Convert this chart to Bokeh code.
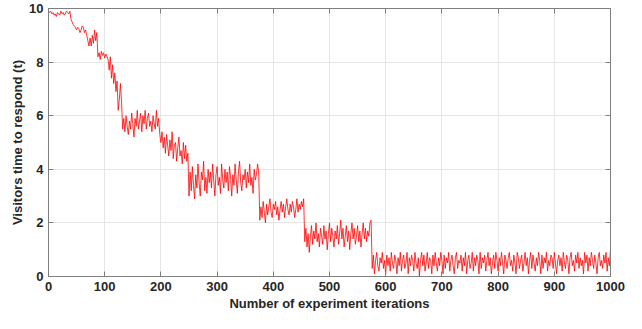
from bokeh.plotting import figure
from bokeh.models import Range1d, LinearAxis, FixedTicker
from bokeh.embed import file_html
from bokeh.resources import INLINE

# ---- data (one value every 2 iterations) ----
seg_start = [9.9, 9.85, 9.9, 9.8, 9.85, 9.75, 9.8, 9.7, 9.85, 9.8, 9.75, 9.9, 9.8, 9.85, 9.75, 9.8, 9.9, 9.85, 9.8, 9.9]
seg_drop1 = [9.6, 9.5, 9.4, 9.35, 9.3, 9.2, 9.3, 9.25, 9.1, 9.2, 9.35, 9.3, 9.1, 9.2, 9.0, 8.8]
seg_drop2 = [8.6, 8.9, 8.6, 9.0, 8.7, 9.2, 8.8, 9.1]
seg_8 = [8.2, 8.35, 8.1, 8.4, 8.25, 8.35, 8.15, 8.3, 8.2]
seg_drop3 = [8.1, 7.7, 8.2, 7.4, 7.9, 7.2, 7.6, 6.9, 7.3, 6.2, 6.6, 7.2, 6.5]
seg_6 = [5.5, 5.9, 5.4, 6.0, 5.6, 5.3, 5.8, 5.5, 6.1, 5.7, 5.2, 5.9, 5.6, 6.2, 5.5, 5.8, 6.1,
         5.4, 6.0, 5.7, 6.2, 5.5, 5.9, 6.1, 5.6, 5.8, 5.4, 6.0, 5.7, 5.5, 6.2, 5.6, 5.9]
seg_5 = [5.3, 5.0, 5.4, 4.8, 5.2, 4.6, 5.3, 4.9, 4.5, 5.1, 4.7, 5.4, 4.4, 4.9, 5.0, 4.3, 4.8,
         5.2, 4.5, 4.7, 4.2, 5.0, 4.4, 4.9, 4.3, 4.6]
seg_4 = [3.0, 3.9, 3.2, 4.1, 3.4, 2.9, 3.8, 3.3, 4.2, 3.5, 3.0, 3.9, 3.6, 4.3, 3.2, 3.7, 3.1, 4.0, 3.5, 3.9,
         3.3, 4.2, 3.6, 3.0, 3.8, 4.1, 3.4, 3.7, 3.1, 4.2, 3.6, 3.3, 4.0, 3.5, 3.9, 3.2, 4.1, 3.7, 3.0, 3.8,
         3.4, 4.2, 3.6, 3.1, 3.9, 4.3, 3.5, 3.2, 3.8, 3.6, 4.0, 3.3, 3.9, 3.5, 4.2, 3.4, 3.7, 3.1, 4.0, 3.6,
         3.8, 4.2, 3.9]
seg_3 = [2.1, 2.6, 2.2, 2.8, 2.4, 2.0, 2.7, 2.3, 2.6, 2.9, 2.4, 2.2, 2.7, 2.5, 2.8, 2.3, 2.6, 2.1, 2.5, 2.8,
         2.4, 2.7, 2.2, 2.6, 2.9, 2.5, 2.3, 2.7, 2.4, 2.8, 2.6, 2.2, 2.5, 2.9, 2.4, 2.7, 2.5, 2.8, 2.6, 2.9]
seg_2 = [1.3, 1.8, 1.1, 1.6, 0.9, 1.5, 1.9, 1.2, 1.7, 1.4, 2.0, 1.3, 1.6, 1.1, 1.8, 1.5, 1.2, 1.9, 1.4, 1.7,
         1.0, 1.6, 2.0, 1.3, 1.8, 1.5, 1.1, 1.7, 1.4, 1.9, 1.2, 1.6, 2.1, 1.4, 1.8, 1.1, 1.5, 1.9, 1.3, 1.7,
         1.0, 1.6, 2.0, 1.4, 1.8, 1.2, 1.5, 1.9, 1.3, 1.7, 1.1, 1.6, 2.0, 1.4, 1.8, 1.3, 1.7, 1.5, 2.0, 2.1]
seg_1 = [0.3, 0.8, 0.1, 0.6, 0.9, 0.4, 0.2, 0.7, 0.5, 0.9, 0.3, 0.6, 0.1, 0.8, 0.4, 0.7, 0.2, 0.9, 0.5, 0.3,
         0.8, 0.6, 0.1, 0.7, 0.4, 0.9, 0.2, 0.6, 0.8, 0.3, 0.5, 0.9, 0.1, 0.7, 0.4, 0.8, 0.6, 0.2, 0.9, 0.5,
         0.3, 0.7, 0.0, 0.6, 0.9, 0.4, 0.8, 0.2, 0.5, 0.9, 0.3, 0.7, 0.6, 0.1, 0.8, 0.4, 0.9, 0.5, 0.2, 0.7,
         0.4, 0.9, 0.6, 0.1, 0.8, 0.3, 0.7, 0.5, 0.9, 0.2, 0.6, 0.8, 0.4, 0.1, 0.7, 0.9, 0.3, 0.6, 0.5, 0.8,
         0.2, 0.7, 0.4, 0.9, 0.1, 0.6, 0.8, 0.3, 0.5, 0.9, 0.2, 0.7, 0.4, 0.8, 0.6, 0.1, 0.9, 0.3, 0.7, 0.5,
         0.8, 0.2, 0.6, 0.9, 0.4, 0.7, 0.1, 0.5, 0.8, 0.3, 0.9, 0.6, 0.2, 0.7, 0.4, 0.9, 0.5, 0.1, 0.8, 0.6,
         0.3, 0.7, 0.9, 0.4, 0.6, 0.2, 0.8, 0.5, 0.1, 0.9, 0.7, 0.3, 0.6, 0.8, 0.2, 0.5, 0.9, 0.4, 0.7, 0.1,
         0.6, 0.9, 0.3, 0.8, 0.5, 0.2, 0.7, 0.4, 0.9, 0.6, 0.1, 0.8, 0.3, 0.7, 0.5, 0.9, 0.2, 0.6, 0.4, 0.8,
         0.7, 0.3, 0.9, 0.5, 0.1, 0.6, 0.8, 0.4, 0.7, 0.2, 0.9, 0.5, 0.3, 0.8, 0.6, 0.1, 0.7, 0.9, 0.4, 0.6,
         0.2, 0.8, 0.5, 0.9, 0.3, 0.7, 0.4, 0.6, 0.1, 0.9, 0.5, 0.8, 0.2, 0.7, 0.4, 0.9, 0.6, 0.3, 0.8, 0.5,
         0.1, 0.7, 0.9, 0.4, 0.6, 0.3, 0.8, 0.5, 0.9, 0.2, 0.7, 0.4, 1.0]

response_time = (seg_start + seg_drop1 + seg_drop2 + seg_8 + seg_drop3 + seg_6 + seg_5
                 + seg_4 + seg_3 + seg_2 + seg_1)
iterations = list(range(0, 2 * len(response_time), 2))

x_ticks = [0, 100, 200, 300, 400, 500, 600, 700, 800, 900, 1000]
y_ticks = [0, 2, 4, 6, 8, 10]

FONT = "Liberation Sans"
TXT = "#262626"
AX = "#7f7f7f"

p = figure(width=626, height=313, x_range=Range1d(0, 1000), y_range=Range1d(0, 10),
           output_backend="svg", toolbar_location=None,
           min_border_left=48, min_border_right=16, min_border_top=8, min_border_bottom=34)
p.outline_line_color = AX
p.outline_line_width = 1

p.line(iterations, response_time, color="#ff0000", line_width=0.8)

for ax in (p.xaxis[0], p.yaxis[0]):
    ax.major_label_text_font = FONT
    ax.major_label_text_font_style = "bold"
    ax.major_label_text_font_size = "13px"
    ax.major_label_text_color = TXT
    ax.axis_label_text_font = FONT
    ax.axis_label_text_font_style = "bold"
    ax.axis_label_text_font_size = "13px"
    ax.axis_label_text_color = TXT
    ax.axis_line_color = AX
    ax.major_tick_line_color = AX
    ax.major_tick_in = 5
    ax.major_tick_out = 0
    ax.minor_tick_line_color = None

p.xaxis[0].ticker = FixedTicker(ticks=x_ticks)
p.yaxis[0].ticker = FixedTicker(ticks=y_ticks)
p.xaxis[0].axis_label = "Number of experiment iterations"
p.yaxis[0].axis_label = "Visitors time to respond (t)"
p.xaxis[0].major_label_standoff = 5
p.xaxis[0].axis_label_standoff = 2
p.yaxis[0].major_label_standoff = 5
p.yaxis[0].axis_label_standoff = 1

for loc, ticks in (("above", x_ticks), ("right", y_ticks)):
    a = LinearAxis(ticker=FixedTicker(ticks=ticks))
    a.major_label_text_font_size = "0px"
    a.major_label_text_alpha = 0
    a.major_label_standoff = 0
    a.axis_line_color = AX
    a.major_tick_line_color = AX
    a.major_tick_in = 5
    a.major_tick_out = 0
    a.minor_tick_line_color = None
    p.add_layout(a, loc)

p.xgrid.ticker = FixedTicker(ticks=x_ticks)
p.ygrid.ticker = FixedTicker(ticks=y_ticks)
p.grid.grid_line_color = "#e6e6e6"
p.grid.grid_line_width = 1

p.background_fill_color = "white"
p.border_fill_color = "white"

open("out.html", "w").write(file_html(p, INLINE))
